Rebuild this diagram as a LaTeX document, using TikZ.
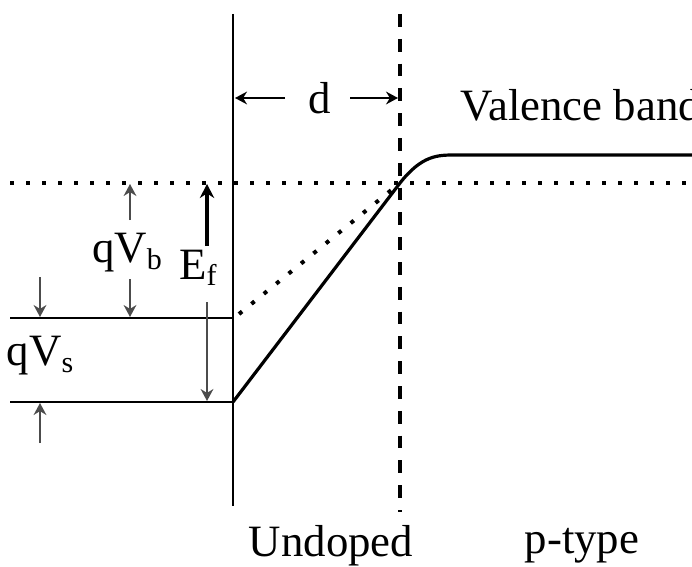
\documentclass[tikz,border=0pt]{standalone}
\usepackage{fontspec}
\setmainfont{Liberation Serif}
\usepackage{tikz}
\usetikzlibrary{arrows.meta, positioning, calc}

\begin{document}
\begin{tikzpicture}[
    x=0.25pt, y=-0.25pt,
    every node/.style={font=\fontsize{11.2}{13}\selectfont, inner sep=0pt},
    wall/.style={line width=0.55pt, draw=black},
    edgeline/.style={line width=1pt, draw=black, dash pattern=on 3.2pt off 3pt},
    fermi/.style={line width=1pt, draw=black, dash pattern=on 1pt off 3pt},
    bandline/.style={line width=0.8pt, draw=black},
    dimarrow/.style={-{Stealth[length=3pt,width=3.2pt]}, line width=0.4pt, draw=black!70},
    boldarrow/.style={-{Stealth[length=3.5pt,width=3.6pt]}, line width=0.8pt, draw=black}
]
\useasboundingbox (0,0) rectangle (692,566);
\clip (0,0) rectangle (692,566);

% Key points of the band picture
\coordinate (WT) at (233,14);
\coordinate (WB) at (233,506);
\coordinate (DT) at (400,14);
\coordinate (DB) at (400,512);
\coordinate (FL) at (10,183);
\coordinate (FR) at (692,183);
\coordinate (S) at (233,402);
\coordinate (B) at (233,318);
\coordinate (X) at (400,183);
\coordinate (V) at (455,155);
\coordinate (VR) at (692,155);

% Interface and edge of the undoped layer
\draw[wall] (WT) -- (WB);
\draw[edgeline] (DT) -- (DB);

% Fermi level and levels at the surface
\draw[fermi] (FL) -- (FR);
\draw[wall] (10,318) -- (B);
\draw[wall] (10,402) -- (S);

% Valence band edge
\draw[bandline] (S) -- (X) .. controls (422,155) and (438,155) .. (V) -- (VR);
\draw[fermi] ($(B)+(6,-4)$) -- (X);

% Width of the depleted region
\node (dlab) at (320,98) {d};
\coordinate (dL) at (285,98);
\coordinate (dR) at (350,98);
\draw[dimarrow, draw=black] (dL) -- (235,98);
\draw[dimarrow, draw=black] (dR) -- (398,98);

% qV_b
\node (qvb) at (128,253) {qV\textsubscript{\fontsize{7.5}{8}\selectfont b}};
\coordinate (qb1) at (130,220);
\coordinate (qb2) at (130,279);
\draw[dimarrow] (qb1) -- (130,184);
\draw[dimarrow] (qb2) -- (130,317);

% E_f
\node (eflab) at (199,268) {E\textsubscript{\fontsize{7.5}{8}\selectfont f}};
\coordinate (ef1) at (207,246);
\coordinate (ef2) at (207,302);
\draw[boldarrow] (ef1) -- (207,184);
\draw[dimarrow] (ef2) -- (207,401);

% qV_s
\node (qvs) at (41,356) {qV\textsubscript{\fontsize{7.5}{8}\selectfont s}};
\coordinate (qs1) at (40,277);
\coordinate (qs2) at (40,443);
\draw[dimarrow] (qs1) -- (40,317);
\draw[dimarrow] (qs2) -- (40,403);

% Region labels
\node[anchor=west] (vb) at (460,105) {Valence band};
\node (undoped) at (331,546) {Undoped};
\node (ptype) at (582,546) {p-type};

\end{tikzpicture}
\end{document}
